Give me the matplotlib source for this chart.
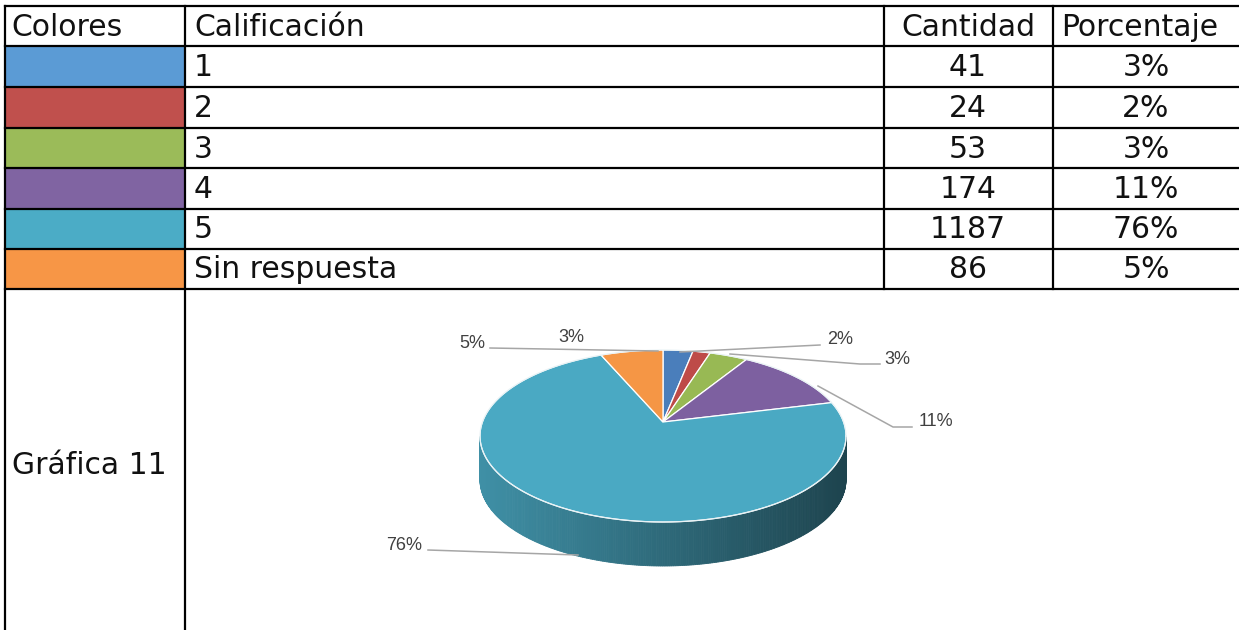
import numpy as np
import matplotlib.pyplot as plt
from matplotlib.patches import Polygon, Rectangle

# table data
header = ["Colores", "Calificación", "Cantidad", "Porcentaje"]
calificacion = ["1", "2", "3", "4", "5", "Sin respuesta"]
cantidad = [41, 24, 53, 174, 1187, 86]
porcentaje = ["3%", "2%", "3%", "11%", "76%", "5%"]
cell_colors = ["#5b9bd5", "#c0504d", "#9bbb59", "#8064a2", "#4bacc6", "#f79646"]
pie_colors = ["#4a7ebb", "#be4b48", "#98b954", "#7d60a0", "#4aa9c3", "#f59645"]
grafica = "Gráfica 11"

fig = plt.figure(figsize=(12.39, 6.30), dpi=100)
ax = fig.add_axes([0, 0, 1, 1])
ax.set_xlim(0, 1239)
ax.set_ylim(630, 0)
ax.axis("off")

font = "DejaVu Sans"
fs = 21.5
tc = "#111111"

# grid geometry (pixels)
x_cols = [5, 185, 884, 1053, 1239]
y_rows = [6, 46, 87, 128, 168, 209, 249, 289]
lw = 1.6

for i, c in enumerate(cell_colors):
    ax.add_patch(Rectangle((x_cols[0], y_rows[i + 1]), x_cols[1] - x_cols[0],
                           y_rows[i + 2] - y_rows[i + 1], color=c, lw=0, zorder=1))

for y in y_rows:
    ax.plot([x_cols[0], 1239], [y, y], color="black", lw=lw, zorder=3)
for x in x_cols[:2]:
    ax.plot([x, x], [y_rows[0], 630], color="black", lw=lw, zorder=3)
for x in x_cols[2:4]:
    ax.plot([x, x], [y_rows[0], y_rows[-1]], color="black", lw=lw, zorder=3)

def ymid(i):
    return (y_rows[i] + y_rows[i + 1]) / 2 + 1

ax.text(11, ymid(0), header[0], fontsize=fs, family=font, va="center", ha="left", color=tc)
ax.text(194, ymid(0), header[1], fontsize=fs, family=font, va="center", ha="left", color=tc)
ax.text(968, ymid(0), header[2], fontsize=fs, family=font, va="center", ha="center", color=tc)
ax.text(1061, ymid(0), header[3], fontsize=fs, family=font, va="center", ha="left", color=tc)
for i in range(len(calificacion)):
    ax.text(194, ymid(i + 1), calificacion[i], fontsize=fs, family=font, va="center", ha="left", color=tc)
    ax.text(968, ymid(i + 1), str(cantidad[i]), fontsize=fs, family=font, va="center", ha="center", color=tc)
    ax.text(1146, ymid(i + 1), porcentaje[i], fontsize=fs, family=font, va="center", ha="center", color=tc)
ax.text(12, 466, grafica, fontsize=fs, family=font, va="center", ha="left", color=tc)

# 3D pie
cx, cy, a, b, depth = 663, 436, 183, 86, 44
apex = (cx, cy - 14)
vals = np.array(cantidad, dtype=float)
edges = 90 - 360 * np.concatenate([[0], np.cumsum(vals / vals.sum())])

def pt(t, dy=0):
    r = np.radians(t)
    return cx + a * np.cos(r), cy - b * np.sin(r) + dy

# side walls (front half only)
for i in range(len(vals)):
    ts = np.linspace(edges[i], edges[i + 1], 400)
    base = np.array(plt.matplotlib.colors.to_rgb(pie_colors[i]))
    for t0, t1 in zip(ts[:-1], ts[1:]):
        tm = (t0 + t1) / 2
        if np.sin(np.radians(tm)) >= 0:
            continue
        x0, y0 = pt(t0)
        x1, y1 = pt(t1)
        k = (np.cos(np.radians(tm)) + 1) / 2
        col = base * (0.85 - 0.45 * k)
        ax.add_patch(Polygon([(x0, y0), (x1, y1), (x1, y1 + depth), (x0, y0 + depth)],
                             closed=True, fc=col, ec=col, lw=0.6, zorder=4))

# top face
for i in range(len(vals)):
    ts = np.linspace(edges[i], edges[i + 1], 200)
    pts = [apex] + [pt(t) for t in ts]
    ax.add_patch(Polygon(pts, closed=True, fc=pie_colors[i], ec="white", lw=0.9, zorder=5))

# rim highlight
tt = np.linspace(0, 360, 400)
ax.plot(*zip(*[pt(t) for t in tt]), color="#e8f2f5", lw=0.8, zorder=6)

# data labels and leader lines
lab_txt = ["5%", "3%", "2%", "3%", "11%", "76%"]
lab_xy = [(472, 343), (571, 337), (840, 340), (897, 360), (936, 421), (404, 545)]
leaders = [
    [(490, 348), (658, 351)],
    None,
    [(820, 345), (680, 352)],
    [(880, 364), (860, 364), (730, 354)],
    [(912, 427), (893, 427), (818, 386)],
    [(428, 550), (578, 555)],
]
for txt, (x, y), ln in zip(lab_txt, lab_xy, leaders):
    ax.text(x, y, txt, fontsize=13, family="Liberation Sans", color="#404040", ha="center", va="center", zorder=7)
    if ln is not None:
        xs, ys = zip(*ln)
        ax.plot(xs, ys, color="#a6a6a6", lw=1.1, zorder=6)

fig.savefig("out.png", dpi=100, facecolor="white")
